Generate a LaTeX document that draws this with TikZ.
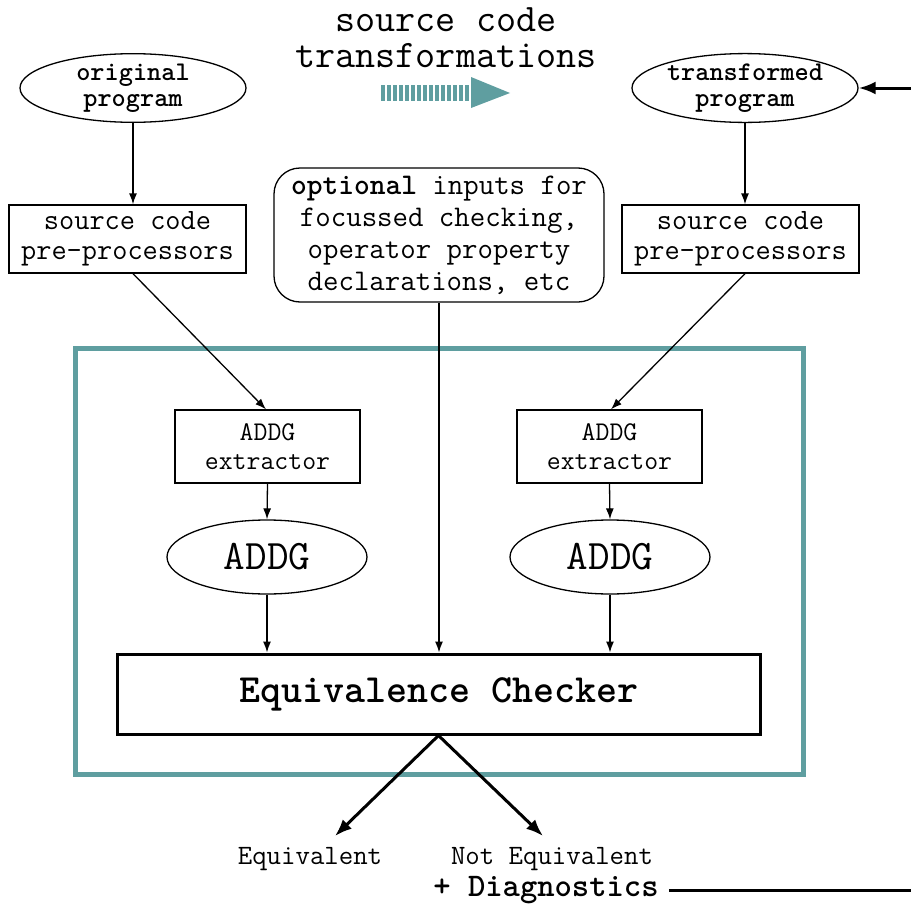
\documentclass[tikz,border=0pt]{standalone}
\usepackage{fontspec}
\renewcommand{\familydefault}{\ttdefault}
\usetikzlibrary{shapes.geometric,arrows.meta}
\definecolor{frameteal}{RGB}{95,158,160}

\tikzset{
  oval/.style={ellipse, draw, line width=1.3pt, inner sep=0pt, align=center},
  progoval/.style={oval, minimum width=226pt, minimum height=64pt,
    font=\bfseries\fontsize{27}{26}\selectfont},
  graphoval/.style={oval, minimum width=200pt, minimum height=74pt,
    font=\fontsize{42}{36}\selectfont},
  procbox/.style={draw, line width=1.3pt, inner sep=0pt, align=center,
    minimum width=237pt, minimum height=68pt, font=\fontsize{29.5}{30}\selectfont},
  extbox/.style={draw, line width=1.3pt, inner sep=0pt, align=center,
    minimum width=185pt, minimum height=73pt, font=\fontsize{27}{29}\selectfont},
  thin/.style={line width=1.3pt, -{Latex[length=11pt,width=8pt]}},
  thick/.style={line width=3pt, -{Latex[length=17pt,width=13pt]}},
  plain/.style={inner sep=0pt, align=center},
}

\begin{document}
\begin{tikzpicture}[x=1pt, y=-1pt]
\useasboundingbox (0,0) rectangle (911,905);

% title and the striped transformation arrow
\node[plain, font=\fontsize{39}{36}\selectfont] (title) at (446,38)
  {source code\\transformations};
\draw[frameteal, line width=16pt, dash pattern=on 3.5pt off 2.5pt] (381,93) -- (472,93);
\fill[frameteal] (471,77) -- (510,93) -- (471,108) -- cycle;

% the two programs
\node[progoval] (orig) at (133,88) {original\\program};
\node[progoval] (trans) at (745,88) {transformed\\program};
\coordinate (feedin) at (911,88);

% pre-processors
\node[procbox] (ppl) at (127.5,239) {source code\\pre-processors};
\node[procbox] (ppr) at (740.5,239) {source code\\pre-processors};

% optional inputs
\node[draw, line width=1.3pt, rounded corners=26pt, inner sep=0pt, align=center,
  minimum width=330pt, minimum height=134pt, font=\fontsize{30}{32}\selectfont]
  (opt) at (439,235)
  {\textbf{optional} inputs for\\focussed checking,\\operator property\\declarations, etc};

% equivalence checking tool frame
\draw[frameteal, line width=5pt] (75,348) rectangle (803,774);

\node[extbox] (exl) at (267.5,446.5) {ADDG\\extractor};
\node[extbox] (exr) at (609.5,446.5) {ADDG\\extractor};

\node[graphoval] (gl) at (267,557) {ADDG};
\node[graphoval] (gr) at (610,557) {ADDG};

\node[draw, line width=3pt, inner sep=0pt, minimum width=643pt, minimum height=80pt,
  font=\bfseries\fontsize{40}{36}\selectfont] (chk) at (438.5,694) {Equivalence Checker};

% verdicts
\coordinate (eqtip) at (335,836);
\coordinate (neqtip) at (543,836);
\node[plain, font=\fontsize{28}{26}\selectfont] (eq) at (310,859) {Equivalent};
\node[plain, font=\fontsize{28}{26}\selectfont] (neq) at (552,859) {Not Equivalent};
\node[plain, font=\bfseries\fontsize{33}{30}\selectfont] (diag) at (546,890) {+ Diagnostics};
\coordinate (feedout) at (911,890);

% connectors
\draw[thin] (orig.south) -- (orig.south |- ppl.north);
\draw[thin] (trans.south) -- (trans.south |- ppr.north);
\draw[thin] ([xshift=5.5pt]ppl.south) -- ([xshift=-1.5pt]exl.north);
\draw[thin] ([xshift=4.5pt]ppr.south) -- ([xshift=1.5pt]exr.north);
\draw[thin] (exl.south) -- (gl.north);
\draw[thin] (exr.south) -- (gr.north);
\draw[thin] (gl.south) -- (gl.south |- chk.north);
\draw[thin] (gr.south) -- (gr.south |- chk.north);
\draw[thin] (opt.south) -- (opt.south |- chk.north);
\draw[thick] (chk.south) -- (eqtip);
\draw[thick] (chk.south) -- (neqtip);
\draw[thick] (feedin) -- (trans.east);
\draw[line width=3pt] ([xshift=10pt]diag.east) -- ([xshift=10pt]diag.east -| feedout);
\end{tikzpicture}
\end{document}
